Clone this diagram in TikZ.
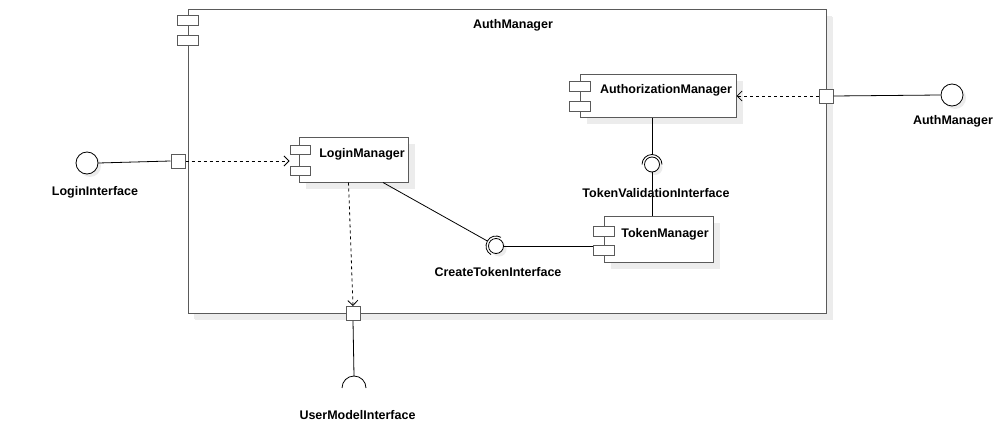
\documentclass[tikz,border=0pt]{standalone}
\usepackage{fontspec}
\setmainfont{Liberation Sans}
\usetikzlibrary{arrows.meta,shadows,calc}
\definecolor{bord}{RGB}{90,90,90}
\definecolor{shad}{RGB}{236,236,236}
\begin{document}
\begin{tikzpicture}[x=1pt,y=-1pt,
  comp/.style={draw=bord, fill=white, line width=1pt, rectangle, inner sep=0pt,
    drop shadow={shadow xshift=7pt, shadow yshift=-7pt, fill=shad, opacity=1}},
  tab/.style={draw=bord, fill=white, line width=1pt, rectangle, minimum width=21pt, minimum height=10pt, inner sep=0pt},
  port/.style={draw=bord, fill=white, line width=1pt, rectangle, minimum size=14pt, inner sep=0pt},
  ball/.style={draw=black, fill=white, line width=0.8pt, circle, inner sep=0pt,
    drop shadow={shadow xshift=3pt, shadow yshift=-3pt, fill=shad, opacity=1}},
  lbl/.style={font=\fontsize{12.5}{15}\selectfont\bfseries, inner sep=0pt},
  conn/.style={draw=black, line width=0.8pt},
  dep/.style={conn, dash pattern=on 3pt off 3pt, -{Straight Barb[length=5pt,width=10pt]}},
  sock/.style={draw=black, line width=0.8pt}
]
\useasboundingbox (0,0) rectangle (1008,436);

% main component
\node[comp, drop shadow={shadow xshift=6pt, shadow yshift=-6pt, fill=shad, opacity=1}, minimum width=638pt, minimum height=303pt] (auth) at (507,161.5) {};
\node[tab] (authtab1) at (188,21) {};
\node[tab] (authtab2) at (188,41) {};
\node[lbl] (authlbl) at (513,25) {AuthManager};

% AuthorizationManager
\node[comp, minimum width=156pt, minimum height=43pt] (azm) at (658,95.5) {};
\node[tab] (azmtab1) at (580,86.5) {};
\node[tab] (azmtab2) at (580,106) {};
\node[lbl] (azmlbl) at (666,90) {AuthorizationManager};

% LoginManager
\node[comp, minimum width=109pt, minimum height=45pt] (lm) at (353.5,159.5) {};
\node[tab, minimum width=20pt, minimum height=9pt] (lmtab1) at (300,150) {};
\node[tab, minimum width=20pt, minimum height=9pt] (lmtab2) at (300,170.5) {};
\node[lbl] (lmlbl) at (362,154) {LoginManager};

% TokenManager
\node[comp, minimum width=109pt, minimum height=46pt] (tm) at (658.5,239) {};
\node[tab] (tmtab1) at (604,231) {};
\node[tab] (tmtab2) at (604,250.5) {};
\node[lbl] (tmlbl) at (665,234) {TokenManager};

% ports
\node[port] (lport) at (178,161) {};
\node[port] (amport) at (826,96) {};
\node[port] (umport) at (353,313.5) {};

% external interfaces
\node[ball, minimum size=22pt] (lball) at (87,163) {};
\node[lbl] (lballlbl) at (95,192) {LoginInterface};
\node[ball, minimum size=22pt] (amball) at (952,95) {};
\node[lbl] (amballlbl) at (953,121.5) {AuthManager};
\coordinate (umsockc) at (354,388);
\coordinate (umsock) at (354,376);
\draw[sock] ($(umsockc)+(12,0)$) arc[start angle=0, end angle=180, radius=12pt];
\node[lbl] (umlbl) at (357.5,415.5) {UserModelInterface};

% internal interfaces
\node[ball, minimum size=15pt] (tvball) at (652,164.5) {};
\coordinate (tvsock) at ($(tvball)+(0,-10)$);
\draw[sock] ($(tvball)+(10,0)$) arc[start angle=0, end angle=180, radius=10pt];
\node[lbl] (tvlbl) at (656,193) {TokenValidationInterface};

\node[ball, minimum size=15pt] (ctball) at (496,246) {};
\coordinate (ctsock) at ($(ctball)+(-8.66,-5)$);
\draw[sock] ($(ctball)+(5,-8.66)$) arc[start angle=60, end angle=240, radius=10pt];
\node[lbl] (ctlbl) at (498,272) {CreateTokenInterface};

% connectors
\draw[conn] (lball.east) -- (lport.west);
\draw[dep] (lport.east) -- (lmtab1.west |- lport);
\draw[conn] (amport.east) -- (amball.west);
\draw[dep] (amport.west) -- (azm.east |- amport);
\draw[conn] (umport.south) -- (umsock);
\draw[dep] ([xshift=-5pt]lm.south) -- (umport.north);
\draw[conn] ([xshift=29.5pt]lm.south) -- (ctsock);
\draw[conn] (ctball.east) -- (ctball.east -| tmtab2.west);
\draw[conn] (azm.south -| tvball) -- (tvsock);
\draw[conn] (tvball.south) -- (tm.north -| tvball);
\end{tikzpicture}
\end{document}
